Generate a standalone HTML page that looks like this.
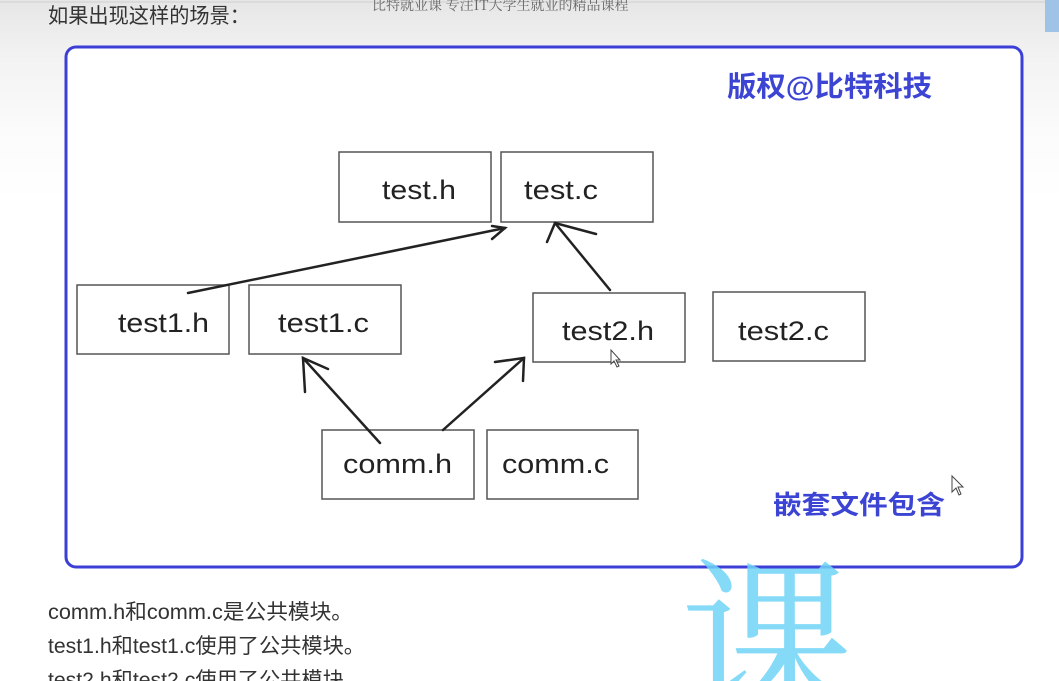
<!DOCTYPE html>
<html><head><meta charset="utf-8"><style>
html,body{margin:0;padding:0;}
body{width:1059px;height:681px;overflow:hidden;background:linear-gradient(#e6e6e6 0px,#f3f3f3 60px,#fbfbfb 130px,#fff 200px);position:relative;font-family:"Liberation Sans","Noto Sans CJK SC",sans-serif;}
</style></head><body>
<svg width="1059" height="681" viewBox="0 0 1059 681" xmlns="http://www.w3.org/2000/svg" style="position:absolute;left:0;top:0;overflow:hidden">
<line x1="0" y1="2" x2="1059" y2="2" stroke="#cfcfcf" stroke-width="1"/>
<rect x="1045" y="0" width="14" height="32" fill="#9ec3e6"/>
<text x="48" y="23" font-size="21" fill="#333" textLength="202" lengthAdjust="spacingAndGlyphs" font-family="Liberation Sans,Noto Sans CJK SC,sans-serif">如果出现这样的场景：</text>
<text x="372" y="10" font-size="14" fill="#666" font-family="Noto Serif CJK SC,serif">比特就业课 专注IT大学生就业的精品课程</text>
<rect x="66" y="47" width="956" height="520" rx="10" fill="#fff" stroke="#3b3fd6" stroke-width="3"/>
<text x="727" y="96" font-size="28" fill="#3c44d4" font-weight="bold" textLength="205" lengthAdjust="spacingAndGlyphs" font-family="Liberation Sans,Noto Sans CJK SC,sans-serif">版权@比特科技</text>
<text x="773" y="514" font-size="26" fill="#3c44d4" font-weight="bold" textLength="172" lengthAdjust="spacingAndGlyphs" font-family="Liberation Sans,Noto Sans CJK SC,sans-serif">嵌套文件包含</text>
<g fill="#fff" stroke="#555" stroke-width="1.5">
<rect x="339" y="152" width="152" height="70"/>
<rect x="501" y="152" width="152" height="70"/>
<rect x="77" y="285" width="152" height="69"/>
<rect x="249" y="285" width="152" height="69"/>
<rect x="533" y="293" width="152" height="69"/>
<rect x="713" y="292" width="152" height="69"/>
<rect x="322" y="430" width="152" height="69"/>
<rect x="487" y="430" width="151" height="69"/>
</g>
<g font-size="27" fill="#222" font-family="Liberation Sans,sans-serif" lengthAdjust="spacingAndGlyphs">
<text x="382" y="199" textLength="74" lengthAdjust="spacingAndGlyphs">test.h</text>
<text x="524" y="199" textLength="74" lengthAdjust="spacingAndGlyphs">test.c</text>
<text x="118" y="332" textLength="91" lengthAdjust="spacingAndGlyphs">test1.h</text>
<text x="278" y="332" textLength="91" lengthAdjust="spacingAndGlyphs">test1.c</text>
<text x="562" y="340" textLength="92" lengthAdjust="spacingAndGlyphs">test2.h</text>
<text x="738" y="340" textLength="91" lengthAdjust="spacingAndGlyphs">test2.c</text>
<text x="343" y="473" textLength="109" lengthAdjust="spacingAndGlyphs">comm.h</text>
<text x="502" y="473" textLength="107" lengthAdjust="spacingAndGlyphs">comm.c</text>
</g>
<g stroke="#222" stroke-width="2.5" fill="none" stroke-linecap="round">
<line x1="188" y1="293" x2="505" y2="228"/>
<polyline points="492,226 505,228 492,239"/>
<line x1="610" y1="290" x2="555" y2="223"/>
<polyline points="547,242 555,223 596,234"/>
<line x1="380" y1="443" x2="303" y2="358"/>
<polyline points="305,392 303,358 328,369"/>
<line x1="443" y1="430" x2="524" y2="358"/>
<polyline points="495,362 524,358 523,381"/>
</g>
<path d="M611 350 l0 14 l3 -3 l3 6 l2 -1 l-3 -6 l4 0 z" fill="#fff" stroke="#444" stroke-width="1"/>
<path d="M952 476 l0 16 l4 -4 l3 7 l2 -1 l-3 -7 l5 0 z" fill="#fff" stroke="#444" stroke-width="1"/>
<text x="680" y="705" font-size="175" fill="#6fd4f6" opacity="0.85" font-family="Noto Serif CJK SC,serif">课</text>
<g font-size="21" fill="#333" font-family="Liberation Sans,Noto Sans CJK SC,sans-serif">
<text x="48" y="619" textLength="305" lengthAdjust="spacingAndGlyphs">comm.h和comm.c是公共模块。</text>
<text x="48" y="653" textLength="317" lengthAdjust="spacingAndGlyphs">test1.h和test1.c使用了公共模块。</text>
<text x="48" y="687" textLength="317" lengthAdjust="spacingAndGlyphs">test2.h和test2.c使用了公共模块。</text>
</g>
</svg>
</body></html>
